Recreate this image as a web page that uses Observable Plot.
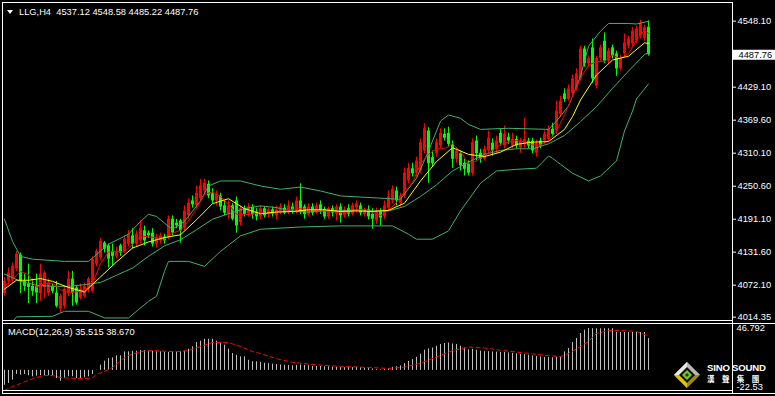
<!DOCTYPE html>
<html><head><meta charset="utf-8">
<script src="https://cdn.jsdelivr.net/npm/d3@7"></script>
<script src="https://cdn.jsdelivr.net/npm/@observablehq/plot@0.6"></script>
<style>
html,body{margin:0;padding:0;background:#000;}
#wrap{position:relative;width:775px;height:396px;background:#000;overflow:hidden;font-family:"Liberation Sans",Arial,sans-serif;}
#main,#macd{position:absolute;left:0;}
#main{top:0;}
#macd{top:322px;}
.txt{position:absolute;color:#fff;font-size:9.3px;white-space:pre;line-height:1;}
.ln{position:absolute;background:#fff;}
.tri{position:absolute;left:7px;top:10px;width:0;height:0;border-left:3px solid transparent;border-right:3px solid transparent;border-top:4px solid #fff;}
</style></head><body>
<div id="wrap">
  <div id="main"></div>
  <div id="macd"></div>
  <div class="ln" style="left:2px;top:2px;width:731px;height:1px"></div>
  <div class="ln" style="left:2px;top:2px;width:1px;height:392px"></div>
  <div class="ln" style="left:732px;top:2px;width:1px;height:392px"></div>
  <div class="ln" style="left:2px;top:320px;width:731px;height:1px"></div>
  <div class="ln" style="left:2px;top:323px;width:773px;height:1px"></div>
  <div class="ln" style="left:2px;top:390px;width:731px;height:1px"></div>
  <div class="ln" style="left:2px;top:393px;width:773px;height:1px"></div>
  <div class="tri"></div>
  <div class="txt" id="title" style="left:19px;top:7.8px"></div>
  <div class="txt" id="macdTitle" style="left:8px;top:327.5px"></div>
  <svg style="position:absolute;left:674px;top:362px" width="26" height="26" viewBox="0 0 26 26">
    <polygon points="13,0 26,13 13,26 0,13" fill="#a08a10"/>
    <polygon points="13,0 26,13 19.5,13 13,6.5 6.5,13 0,13" fill="#b8b8b8"/>
    <polygon points="13,0 0,13 6.5,13 13,6.5" fill="#e8e8e8"/>
    <polygon points="0,13 13,26 13,19.5 6.5,13" fill="#e0c400"/>
    <polygon points="13,5 21,13 13,21 5,13" fill="#111"/>
    <polygon points="13,8 18,13 13,18 8,13" fill="#7cc424"/>
    <polygon points="13,11 15,13 13,15 11,13" fill="#1a3a08"/>
  </svg>
  <div class="txt" style="left:707px;top:362.5px;height:9px;font-weight:bold;font-size:9.6px;letter-spacing:-0.2px">SINO SOUND</div>
  <div class="txt" style="left:707px;top:374.5px;height:8px;line-height:8px;font-size:7.5px;letter-spacing:7.4px;font-family:'Noto Sans CJK TC',sans-serif;font-weight:bold">漢聲集團</div>
</div>
<script>
// ---- candles (H4) ----
const open = [4057,4079,4081,4101,4126,4079,4074,4070,4070,4057,4068,4057,4070,4058,4029,4034,4057,4083,4067,4049,4052,4065,4061,4110,4121,4148,4143,4133,4124,4143,4133,4146,
4161,4146,4152,4170,4166,4166,4146,4152,4159,4157,4191,4184,4188,4175,4197,4224,4215,4228,4242,4254,4237,4224,4233,4215,4200,4215,4224,
4185,4210,4200,4213,4204,4195,4210,4199,4208,4197,4202,4211,4202,4213,4206,4224,4213,4199,4213,4202,4217,4208,4195,4210,4200,4213,4197,4210,4200,4211,4215,4199,4208,4200,4188,4204,4195,4211,4224,4242,
4219,4233,4260,4282,4273,4278,4314,4350,4302,4309,4323,4344,4346,4326,4299,4309,4292,4291,4274,4332,4310,4299,4314,4328,4317,4346,4323,4339,4323,4335,4319,4326,4332,4332,4310,4332,4332,4335,4353,4350,4380,
4417,4407,4418,4427,4444,4498,4471,4500,4431,4481,4512,4476,4500,4489,4462,4489,4503,4507,4512,4521,4517,4537.12];
const high = [4086,4103,4112,4133,4130,4092,4110,4083,4092,4110,4097,4083,4074,4079,4056,4070,4097,4097,4070,4074,4076,4086,4123,4137,4156,4151,4146,4146,4141,4146,4161,4170,
4174,4170,4188,4179,4170,4174,4164,4166,4164,4197,4197,4191,4191,4215,4228,4233,4251,4263,4263,4260,4246,4242,4238,4224,4224,4219,4231,
4215,4215,4219,4217,4210,4215,4213,4211,4213,4215,4219,4217,4224,4220,4231,4255,4217,4219,4219,4220,4224,4213,4213,4215,4217,4219,4213,4217,4220,4224,4220,4211,4215,4210,4211,4210,4224,4242,4251,4249,
4238,4283,4292,4292,4303,4336,4363,4356,4314,4336,4354,4354,4357,4332,4319,4314,4299,4296,4336,4341,4317,4323,4350,4336,4341,4354,4359,4346,4346,4341,4337,4373,4337,4337,4334,4337,4350,4359,4364,4404,4413,
4426,4433,4451,4462,4503,4503,4485,4516,4485,4505,4527,4499,4505,4494,4487,4525,4521,4537,4539,4550,4541,4548.58];
const low = [4052,4072,4076,4097,4057,4061,4039,4052,4039,4043,4048,4052,4057,4031,4022,4029,4052,4034,4036,4046,4048,4058,4058,4105,4116,4130,4103,4107,4119,4124,4130,4141,
4137,4141,4146,4143,4156,4141,4139,4146,4146,4154,4161,4174,4148,4170,4191,4211,4211,4224,4237,4228,4219,4215,4206,4197,4191,4188,4166,
4179,4195,4195,4191,4188,4190,4193,4193,4195,4190,4199,4199,4199,4200,4200,4199,4191,4195,4197,4199,4200,4191,4191,4195,4188,4184,4193,4195,4197,4202,4197,4195,4190,4173,4182,4179,4191,4206,4219,4215,
4213,4228,4255,4267,4267,4273,4309,4256,4285,4303,4318,4332,4321,4283,4292,4278,4269,4269,4269,4296,4292,4296,4309,4305,4310,4323,4318,4326,4318,4318,4310,4319,4318,4309,4303,4318,4326,4332,4339,4344,4375,
4402,4404,4413,4422,4440,4465,4465,4436,4426,4476,4472,4471,4480,4449,4458,4483,4498,4501,4507,4516,4512,4485.22];
const close = [4079,4094,4106,4128,4079,4070,4068,4061,4058,4092,4094,4076,4061,4034,4052,4065,4083,4058,4040,4065,4070,4083,4119,4133,4151,4137,4119,4124,4133,4130,4155,4164,
4146,4164,4174,4152,4161,4146,4159,4161,4152,4191,4166,4179,4170,4206,4220,4217,4238,4251,4256,4233,4224,4237,4213,4202,4215,4191,4179,
4210,4200,4213,4199,4195,4210,4197,4208,4200,4208,4213,4202,4215,4206,4224,4204,4199,4213,4202,4215,4206,4195,4210,4202,4213,4197,4208,4200,4215,4219,4202,4208,4195,4191,4204,4193,4215,4231,4245,4224,
4233,4274,4283,4273,4296,4329,4354,4291,4291,4329,4346,4337,4326,4299,4314,4287,4281,4274,4329,4309,4299,4317,4337,4314,4332,4328,4344,4332,4335,4323,4332,4335,4323,4314,4328,4323,4344,4353,4344,4386,4404,
4407,4426,4444,4453,4498,4471,4480,4444,4481,4500,4476,4494,4485,4462,4481,4509,4516,4530,4534,4545,4536,4487.76];

const upperIdx = [0,2,4,7,15,21,22,26,31,34,36,38,41,42,45,49,51,54,59,64,69,74,79,84,89,94,99,103,106,109,111,114,116,119,126,136,138,141,144,146,149,151,156,158,161];
const upperVal = [4191,4151,4124,4119,4115,4115,4121,4146,4164,4187,4200,4196,4178,4173,4187,4224,4251,4260,4260,4251,4245,4249,4242,4233,4231,4229,4227,4265,4314,4368,4379,4373,4362,4353,4355,4353,4368,4395,4449,4503,4530,4544,4544,4543,4548];
const midIdx = [0,4,8,12,16,20,24,28,32,36,40,44,48,52,56,60,64,68,72,76,80,84,88,92,96,100,104,108,112,116,120,124,128,132,136,140,144,148,152,156,160,161];
const midVal = [4092,4079,4072,4070,4070,4073,4077,4090,4103,4124,4143,4154,4172,4191,4201,4210,4215,4212,4205,4204,4206,4206,4208,4206,4206,4214,4232,4253,4278,4294,4308,4315,4318,4318,4327,4342,4367,4394,4427,4458,4488,4491];
const lowerIdx = [0,3,12,15,21,25,31,34,36,38,40,41,46,50,54,59,64,74,84,94,97,101,103,107,111,114,117,119,123,128,133,136,137,139,142,146,149,153,155,157,158,161];
const lowerVal = [3989,4015,4016,4025,4025,4013,4013,4031,4043,4052,4097,4115,4115,4106,4133,4161,4173,4177,4179,4179,4179,4164,4155,4155,4170,4206,4236,4256,4278,4281,4283,4305,4301,4290,4274,4260,4269,4296,4350,4386,4408,4435];
const maSlowIdx = [0,3,6,9,12,16,20,24,28,32,36,40,44,48,52,56,60,64,68,72,76,80,84,88,92,96,100,104,108,112,116,120,124,128,132,136,140,142,144,148,152,156,160,161];
const maSlowVal = [4065,4081,4081,4084,4079,4068,4060,4087,4114,4139,4150,4158,4163,4190,4219,4228,4210,4201,4204,4205,4208,4208,4205,4206,4205,4207,4220,4260,4295,4320,4308,4304,4312,4326,4330,4331,4353,4376,4406,4451,4478,4485,4509,4508];
const maFastIdx = [0,2,4,6,8,10,12,14,16,18,20,22,24,26,28,30,32,34,36,38,40,42,44,46,48,50,52,54,56,58,60,62,64,66,68,70,72,74,76,78,80,82,84,86,88,90,92,94,96,98,100,102,104,106,108,110,112,114,116,118,120,122,124,126,128,130,132,134,136,138,140,142,144,146,148,150,152,154,156,158,160,161];
const maFastVal = [4070,4083,4097,4091,4068,4075,4076,4064,4059,4060,4063,4075,4111,4132,4133,4132,4146,4161,4159,4158,4155,4166,4171,4188,4210,4236,4240,4232,4218,4200,4199,4200,4203,4201,4204,4206,4209,4210,4209,4206,4206,4205,4203,4204,4207,4209,4203,4198,4207,4221,4241,4257,4291,4308,4318,4318,4327,4313,4291,4296,4306,4315,4326,4330,4333,4331,4325,4325,4333,4350,4379,4413,4445,4469,4475,4476,4487,4480,4490,4514,4532,4526];

// ---- MACD(12,26,9) ----
const macdMain = [-16.6,-14.7,-11.0,-4.6,-5.4,-4.6,-6.1,-7.2,-6.5,-6.1,-6.1,-6.1,-6.1,-9.1,-12.1,-9.1,-7.2,-7.2,-9.1,-9.1,-8.3,-7.2,-4.6,0.2,5.8,10.2,13.2,14.0,16.3,16.3,20.7,20.7,
21.4,21.4,22.2,22.2,21.4,21.4,20.7,20.7,20.0,20.0,20.7,20.7,20.7,21.4,23.6,26.3,31.1,32.6,34.8,34.8,34.8,32.6,30.0,28.1,23.6,18.8,16.9,15.1,15.1,11.3,9.6,9.6,8.8,
8.0,7.5,7.0,6.5,6.0,5.5,5.5,5.0,5.5,6.0,5.5,5.0,4.5,4.5,4.5,4.0,4.0,3.5,3.5,3.0,3.0,3.0,3.0,3.5,3.0,2.5,2.0,1.5,1.0,0.5,1.0,2.0,3.5,4.0,5.0,
7.5,10.0,12.0,14.5,18.0,22.5,24.0,25.0,27.0,29.0,30.0,30.5,29.5,29.0,27.0,25.0,23.0,23.5,22.5,21.5,21.0,21.0,20.5,20.5,20.0,20.0,19.5,19.0,18.5,18.0,17.5,17.0,16.0,15.5,15.0,14.5,14.5,14.0,14.5,15.1,
20.7,24.4,31.1,35.6,41.2,44.9,46.792,46.5,46.5,46.5,46.5,46.5,46.5,42.3,42.3,42.3,42.3,42.3,42.3,42.3,42.3,35.515];
const signalIdx = [0,2,4,6,8,10,12,14,17,21,22,23,25,27,29,31,34,37,41,44,46,49,52,56,59,62,64,68,72,76,80,84,88,92,96,100,104,108,112,116,120,124,128,132,136,139,141,144,146,148,151,155,158,161];
const signalVal = [-22.53,-18.1,-14.7,-11.3,-8.0,-5.8,-5.8,-8.0,-9.1,-9.1,-8.0,-4.6,-1.3,3.2,11.0,16.6,21.1,22.2,21.1,21.1,22.2,26.7,31.1,31.1,26.7,21.1,18.8,13.0,9.0,7.0,5.5,4.5,3.8,3.0,2.2,3.5,8.0,15.0,22.0,26.0,25.0,22.5,20.5,18.5,16.5,15.5,18.8,26.7,32.3,41.2,44.5,44.5,43.4,38.67];

// ---- axis labels ----
const priceTicks = [4548.10,4429.10,4369.60,4310.10,4250.60,4191.10,4131.60,4072.10,4014.35];
const macdMax = 46.792;
const macdMin = -22.53;
const symbol = "LLG,H4";

const RED = "#ff0000", LIME = "#00ff00", BAND = "#3cb371";
const N = close.length;
const candles = d3.range(N).map(i => ({i, o: open[i], h: high[i], l: low[i], c: close[i]}));
const col = d => d.c >= d.o ? RED : LIME;
const last = candles[N - 1];

document.getElementById("title").textContent =
  `${symbol}  ${last.o.toFixed(2)} ${last.h.toFixed(2)} ${last.l.toFixed(2)} ${last.c.toFixed(2)}`;
document.getElementById("macdTitle").textContent =
  `MACD(12,26,9) ${macdMain[N - 1].toFixed(3)} ${signalVal[signalVal.length - 1].toFixed(3)}`;

const font = {background: "transparent", color: "white", fontFamily: "'Liberation Sans', Arial, sans-serif", fontSize: "9.3px", overflow: "visible"};

const line = (idx, val, stroke) => Plot.line(idx, {x: d => d, y: (d, i) => val[i], stroke, strokeWidth: 1, clip: true});

const main = Plot.plot({
  width: 775, height: 320,
  marginTop: 0, marginBottom: 0, marginLeft: 0, marginRight: 43,
  style: font,
  color: {type: "identity"},
  x: {domain: [-1, 182], axis: null},
  y: {domain: [4008.4, 4585.4], axis: "right", ticks: priceTicks, tickFormat: d => d.toFixed(2), tickSize: 3, tickPadding: 2, label: null},
  marks: [
    Plot.ruleX(candles, {x: "i", y1: "l", y2: "h", stroke: col, strokeWidth: 1, clip: true}),
    Plot.ruleX(candles, {x: "i", y1: d => Math.min(d.o, d.c), y2: d => Math.max(d.o, d.c), stroke: col, strokeWidth: 3, clip: true}),
    line(upperIdx, upperVal, BAND),
    line(midIdx, midVal, BAND),
    line(lowerIdx, lowerVal, BAND),
    line(maFastIdx, maFastVal, RED),
    line(maSlowIdx, maSlowVal, "#ffff00"),
    Plot.ruleY([last.c], {x1: 182.25, x2: 194, stroke: "white", strokeWidth: 10}),
    Plot.text([last.c], {x: 183.5, y: d => d, text: d => d.toFixed(2), fill: "black", textAnchor: "start", fontSize: 9.3})
  ]
});
document.getElementById("main").appendChild(main);

const macdPlot = Plot.plot({
  width: 775, height: 70,
  marginTop: 6, marginBottom: 2, marginLeft: 0, marginRight: 43,
  style: font,
  x: {domain: [-1, 182], axis: null},
  y: {domain: [macdMin, macdMax], axis: null},
  marks: [
    Plot.ruleX(macdMain, {x: (d, i) => i, y1: 0, y2: d => d, stroke: "#c0c0c0", strokeWidth: 1}),
    Plot.line(signalIdx, {x: d => d, y: (d, i) => signalVal[i], stroke: RED, strokeWidth: 1, strokeDasharray: "4,3"}),
    Plot.text([macdMax], {x: 183, y: d => d, text: d => d.toFixed(3), fill: "white", textAnchor: "start", fontSize: 9.3}),
    Plot.text([macdMin], {x: 183, y: d => d, dy: -3, text: d => d.toFixed(2), fill: "white", textAnchor: "start", fontSize: 9.3})
  ]
});
document.getElementById("macd").appendChild(macdPlot);
</script>
</body></html>
